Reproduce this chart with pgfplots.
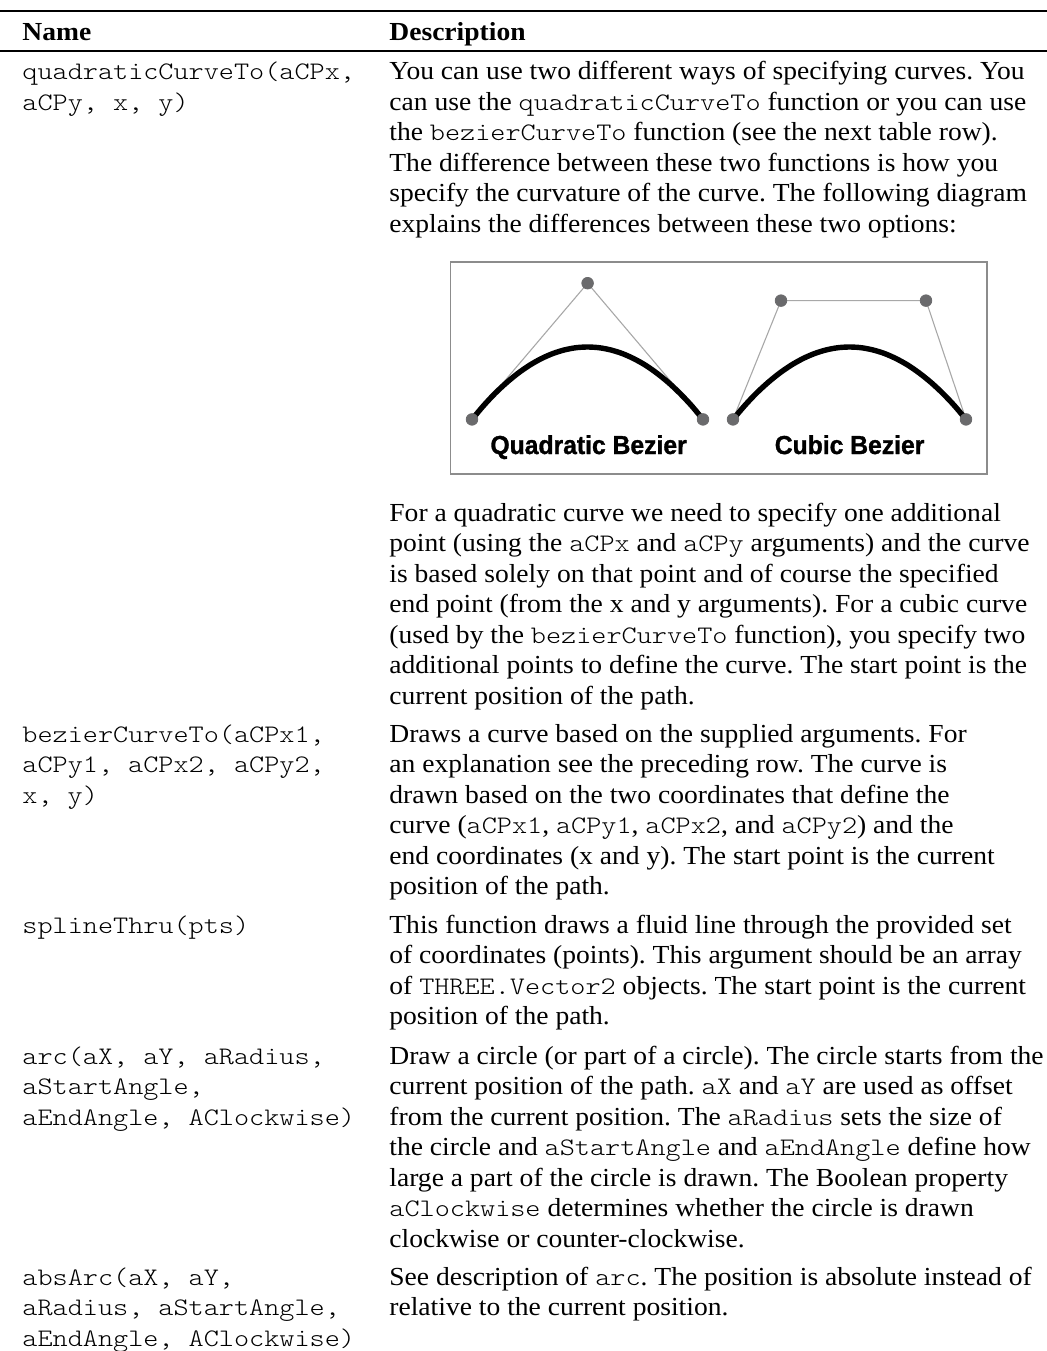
\documentclass[border=0pt]{standalone}
\usepackage{fontspec}
\setmainfont{Liberation Serif}[FakeStretch=1.06]
\newfontfamily\namefont{lmmonolt10-regular}[Extension=.otf, FakeStretch=1.143]
\newfontfamily\labelfont{Liberation Sans}[FakeStretch=0.95, BoldFeatures={FakeBold=1.2}]
\usepackage{pgfplots}
\pgfplotsset{compat=1.18}
\definecolor{boxgray}{HTML}{8C8C8C}
\definecolor{thingray}{HTML}{A8A8A8}
\definecolor{dotgray}{HTML}{6A6A6C}
\newcommand\descf{\frenchspacing\fontsize{13}{15.25}\selectfont}
\newcommand\namef{\namefont\fontsize{12.6}{15.25}\selectfont}
\newcommand\cd[1]{{\namefont\fontsize{12.6}{15}\selectfont #1}}
\newcommand\D[2]{\node[anchor=base west,inner sep=0pt,font=\descf] at (389,#1) {#2};}
\newcommand\N[2]{\node[anchor=base west,inner sep=0pt,font=\namef] at (22,#1) {#2};}
\begin{document}
\begin{tikzpicture}[x=0.5pt,y=-0.5pt]
\path[use as bounding box] (0,0) rectangle (1047,1351);
% rules
\draw[line width=0.8pt] (0,11) -- (1047,11);
\draw[line width=0.8pt] (0,51) -- (1047,51);
% header
\node[anchor=base west,inner sep=0pt,font=\descf\bfseries] at (22,40.5) {Name};
\node[anchor=base west,inner sep=0pt,font=\descf\bfseries] at (389,40.5) {Description};
% row 1
\N{79.6}{quadraticCurveTo(aCPx,}
\N{110.1}{aCPy, x, y)}
\D{79.6}{You can use two different ways of specifying curves. You}
\D{110.1}{can use the \cd{quadraticCurveTo} function or you can use}
\D{140.6}{the \cd{bezierCurveTo} function (see the next table row).}
\D{171.1}{The difference between these two functions is how you}
\D{201.6}{specify the curvature of the curve. The following diagram}
\D{232.1}{explains the differences between these two options:}
\D{521}{For a quadratic curve we need to specify one additional}
\D{551.5}{point (using the \cd{aCPx} and \cd{aCPy} arguments) and the curve}
\D{582}{is based solely on that point and of course the specified}
\D{612.5}{end point (from the x and y arguments). For a cubic curve}
\D{643}{(used by the \cd{bezierCurveTo} function), you specify two}
\D{673.5}{additional points to define the curve. The start point is the}
\D{704}{current position of the path.}
% row 2
\N{742}{bezierCurveTo(aCPx1,}
\N{772.5}{aCPy1, aCPx2, aCPy2,}
\N{803}{x, y)}
\D{742}{Draws a curve based on the supplied arguments. For}
\D{772.5}{an explanation see the preceding row. The curve is}
\D{803}{drawn based on the two coordinates that define the}
\D{833.5}{curve (\cd{aCPx1}, \cd{aCPy1}, \cd{aCPx2}, and \cd{aCPy2}) and the}
\D{864}{end coordinates (x and y). The start point is the current}
\D{894.5}{position of the path.}
% row 3
\N{933}{splineThru(pts)}
\D{933}{This function draws a fluid line through the provided set}
\D{963.5}{of coordinates (points). This argument should be an array}
\D{994}{of \cd{THREE.Vector2} objects. The start point is the current}
\D{1024.5}{position of the path.}
% row 4
\N{1064}{arc(aX, aY, aRadius,}
\N{1094.5}{aStartAngle,}
\N{1125}{aEndAngle, AClockwise)}
\D{1064}{Draw a circle (or part of a circle). The circle starts from the}
\D{1094.5}{current position of the path. \cd{aX} and \cd{aY} are used as offset}
\D{1125}{from the current position. The \cd{aRadius} sets the size of}
\D{1155.5}{the circle and \cd{aStartAngle} and \cd{aEndAngle} define how}
\D{1186}{large a part of the circle is drawn. The Boolean property}
\D{1216.5}{\cd{aClockwise} determines whether the circle is drawn}
\D{1247}{clockwise or counter-clockwise.}
% row 5
\N{1285}{absArc(aX, aY,}
\N{1315.5}{aRadius, aStartAngle,}
\N{1346}{aEndAngle, AClockwise)}
\D{1285}{See description of \cd{arc}. The position is absolute instead of}
\D{1315.5}{relative to the current position.}
% diagram
\begin{axis}[
  at={(225.35pt,-237pt)}, anchor=south west,
  width=268.15pt, height=106pt, scale only axis,
  xmin=450.7, xmax=987, ymin=262, ymax=474, y dir=reverse,
  xtick=\empty, ytick=\empty, clip=false,
  axis line style={draw=boxgray, line width=0.7pt},
]
\addplot[thingray, line width=0.55pt] coordinates {(472,419.4) (587.6,283.2) (703,419.4)};
\addplot[thingray, line width=0.55pt] coordinates {(733,419.4) (781,300.6) (926,300.6) (966,419.4)};
\addplot[black, line width=2.7pt, smooth] coordinates {
(472,419.4) (483.6,405.6) (495.1,393.3) (506.7,382.5) (518.2,373.1) (529.8,365.1)
(541.3,358.6) (552.9,353.5) (564.4,349.9) (576.0,347.7) (587.5,347.0) (599.1,347.7)
(610.6,349.9) (622.2,353.5) (633.7,358.6) (645.3,365.1) (656.8,373.1) (668.4,382.5)
(679.9,393.3) (691.5,405.6) (703,419.4)};
\addplot[black, line width=2.7pt, smooth] coordinates {
(733,419.4) (744.7,405.6) (756.3,393.3) (768.0,382.5) (779.6,373.1) (791.3,365.1)
(802.9,358.6) (814.6,353.5) (826.2,349.9) (837.9,347.7) (849.5,347.0) (861.2,347.7)
(872.8,349.9) (884.5,353.5) (896.1,358.6) (907.8,365.1) (919.4,373.1) (931.1,382.5)
(942.7,393.3) (954.4,405.6) (966,419.4)};
\addplot[only marks, mark=*, mark size=2.9pt, mark options={draw=dotgray, fill=dotgray}] coordinates {
(472,419.4) (587.6,283.2) (703,419.4) (733,419.4) (781,300.6) (926,300.6) (966,419.4)};
\node[anchor=base, inner sep=0pt, font=\labelfont\bfseries\fontsize{13}{15}\selectfont] at (axis cs:588.6,454) {Quadratic Bezier};
\node[anchor=base, inner sep=0pt, font=\labelfont\bfseries\fontsize{13}{15}\selectfont] at (axis cs:849.6,454) {Cubic Bezier};
\end{axis}
\end{tikzpicture}
\end{document}
